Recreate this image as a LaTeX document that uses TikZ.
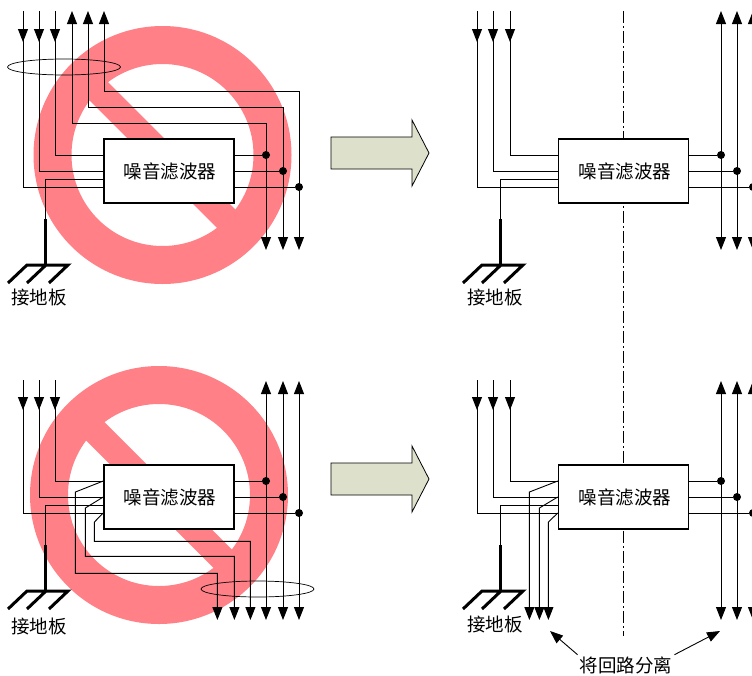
\documentclass[tikz,border=0pt]{standalone}
\usepackage{fontspec}
\newfontfamily\cjk{Noto Sans CJK SC}
\usetikzlibrary{arrows.meta, calc, shapes.geometric}
\definecolor{banred}{RGB}{255,128,135}
\definecolor{arrowgreen}{RGB}{221,225,203}
\tikzset{
    wire/.style={line width=0.9pt, black},
    ticked/.style={wire, -{Triangle[length=13pt, width=10pt]}},
    twoway/.style={wire, {Triangle[length=13pt, width=10pt]}-{Triangle[length=13pt, width=10pt]}},
    earth/.style={line width=3pt, black},
    filterbox/.style={draw, line width=1.5pt, fill=white, minimum width=130pt, minimum height=64pt, inner sep=0pt, font=\cjk\fontsize{18.5}{20}\selectfont},
    caption/.style={inner sep=2pt, font=\cjk\fontsize{18.5}{20}\selectfont},
    dot/.style={circle, fill=black, minimum size=8pt, inner sep=0pt},
    loopmark/.style={ellipse, draw, line width=0.7pt, minimum width=113pt, minimum height=16pt, inner sep=0pt},
    bigarrow/.style={draw, line width=0.8pt, fill=arrowgreen},
    axis/.style={line width=0.8pt, dash pattern=on 12pt off 3pt on 2pt off 3pt}
}
% ports on the two sides of a filter box
\newcommand{\fports}[1]{
    \coordinate (#1wa) at ($(#1.west)+(0,-16)$);
    \coordinate (#1wg) at ($(#1.west)+(0,8)$);
    \coordinate (#1wb) at (#1.west);
    \coordinate (#1wc) at ($(#1.west)+(0,16)$);
    \coordinate (#1ea) at ($(#1.east)+(0,-16)$);
    \coordinate (#1eb) at (#1.east);
    \coordinate (#1ec) at ($(#1.east)+(0,16)$);
}
\begin{document}
\begin{tikzpicture}[x=1pt, y=-1pt]
    \useasboundingbox (0,0) rectangle (752,675);

    % Forbidden signs
    \fill[banred, even odd rule] (162.5,155) circle (129) (162.5,155) circle (91);
    \begin{scope}
        \clip (162.5,155) circle (100);
        \draw[banred, line width=26pt] (62.5,55) -- (262.5,255);
    \end{scope}
    \fill[banred, even odd rule] (159,495) circle (129) (159,495) circle (91);
    \begin{scope}
        \clip (159,495) circle (100);
        \draw[banred, line width=26pt] (59,395) -- (259,595);
    \end{scope}

    % Axis
    \draw[axis] (623.5,11) -- (623.5,636);

    % Filters
    \node[filterbox] (f1) at (169,171) {\hspace*{2pt}\raisebox{-1pt}{噪音滤波器}};
    \node[filterbox] (f2) at (169,497) {\hspace*{2pt}\raisebox{-1pt}{噪音滤波器}};
    \node[filterbox] (f3) at (623.5,171) {\hspace*{3pt}\raisebox{-1pt}{噪音滤波器}};
    \node[filterbox] (f4) at (623.5,497) {\hspace*{3pt}\raisebox{-1pt}{噪音滤波器}};
    \fports{f1} \fports{f2} \fports{f3} \fports{f4}

    % Dots
    \node[dot] (d1a) at (266,155) {};
    \node[dot] (d1b) at (283,171) {};
    \node[dot] (d1c) at (299,187) {};
    \node[dot] (d2a) at (266,481) {};
    \node[dot] (d2b) at (283,497) {};
    \node[dot] (d2c) at (299,513) {};
    \node[dot] (d3a) at (721,155) {};
    \node[dot] (d3b) at (737,171) {};
    \node[dot] (d3c) at (753,187) {};
    \node[dot] (d4a) at (721,481) {};
    \node[dot] (d4b) at (737,497) {};
    \node[dot] (d4c) at (753,513) {};

    % Loops
    \node[loopmark] (l1) at (64,67) {};
    \node[loopmark] (l2) at (257.5,589) {};

    % Top left: inputs
    \coordinate (i1a) at (55,11);
    \coordinate (i1b) at (39,11);
    \coordinate (i1c) at (23,11);
    \draw[ticked] (i1a) -- ++(0,31);
    \draw[ticked] (i1b) -- ++(0,31);
    \draw[ticked] (i1c) -- ++(0,31);
    \draw[wire] (i1a) |- (f1wa);
    \draw[wire] (i1b) |- (f1wb);
    \draw[wire] (i1c) |- (f1wc);

    % Top left: outputs
    \coordinate (o1a) at (72,11);
    \coordinate (o1b) at (88,11);
    \coordinate (o1c) at (104,11);
    \coordinate (c1a) at (266,123);
    \coordinate (c1b) at (283,107);
    \coordinate (c1c) at (299,91);
    \coordinate (t1a) at (266,250);
    \coordinate (t1b) at (283,250);
    \coordinate (t1c) at (299,250);
    \draw[twoway] (o1a) |- (c1a) -- (t1a);
    \draw[twoway] (o1b) |- (c1b) -- (t1b);
    \draw[twoway] (o1c) |- (c1c) -- (t1c);
    \draw[wire] (f1ea) -- (d1a);
    \draw[wire] (f1eb) -- (d1b);
    \draw[wire] (f1ec) -- (d1c);

    % Bottom left: inputs
    \coordinate (i2a) at (55,380);
    \coordinate (i2b) at (39,380);
    \coordinate (i2c) at (23,380);
    \draw[ticked] (i2a) -- ++(0,30);
    \draw[ticked] (i2b) -- ++(0,30);
    \draw[ticked] (i2c) -- ++(0,30);
    \draw[wire] (i2a) |- (f2wa);
    \draw[wire] (i2b) |- (f2wb);
    \draw[wire] (i2c) |- (f2wc);

    % Bottom left: outputs
    \coordinate (b2a) at (75.4,492);
    \coordinate (b2b) at (85.4,508);
    \coordinate (b2c) at (94.4,522);
    \coordinate (c2a) at (217.4,573.4);
    \coordinate (c2b) at (234.4,556.4);
    \coordinate (c2c) at (250.4,541.4);
    \coordinate (t2a) at (217.4,620);
    \coordinate (t2b) at (234.4,620);
    \coordinate (t2c) at (250.4,620);
    \draw[ticked] (f2wa) -- (b2a) |- (c2a) -- (t2a);
    \draw[ticked] (f2wb) -- (b2b) |- (c2b) -- (t2b);
    \draw[ticked] (f2wc) -- (b2c) |- (c2c) -- (t2c);
    \coordinate (u2a) at (266,381);
    \coordinate (u2b) at (283,381);
    \coordinate (u2c) at (299,381);
    \coordinate (v2a) at (266,620);
    \coordinate (v2b) at (283,620);
    \coordinate (v2c) at (299,620);
    \draw[twoway] (u2a) -- (v2a);
    \draw[twoway] (u2b) -- (v2b);
    \draw[twoway] (u2c) -- (v2c);
    \draw[wire] (f2ea) -- (d2a);
    \draw[wire] (f2eb) -- (d2b);
    \draw[wire] (f2ec) -- (d2c);

    % Top right
    \coordinate (i3a) at (510,11);
    \coordinate (i3b) at (493,11);
    \coordinate (i3c) at (477,11);
    \draw[ticked] (i3a) -- ++(0,31);
    \draw[ticked] (i3b) -- ++(0,31);
    \draw[ticked] (i3c) -- ++(0,31);
    \draw[wire] (i3a) |- (f3wa);
    \draw[wire] (i3b) |- (f3wb);
    \draw[wire] (i3c) |- (f3wc);
    \coordinate (u3a) at (721,11);
    \coordinate (u3b) at (737,11);
    \coordinate (u3c) at (753,11);
    \coordinate (v3a) at (721,250);
    \coordinate (v3b) at (737,250);
    \coordinate (v3c) at (753,250);
    \draw[twoway] (u3a) -- (v3a);
    \draw[twoway] (u3b) -- (v3b);
    \draw[twoway] (u3c) -- (v3c);
    \draw[wire] (f3ea) -- (d3a);
    \draw[wire] (f3eb) -- (d3b);
    \draw[wire] (f3ec) -- (d3c);

    % Bottom right
    \coordinate (i4a) at (510,380);
    \coordinate (i4b) at (493,380);
    \coordinate (i4c) at (477,380);
    \draw[ticked] (i4a) -- ++(0,30);
    \draw[ticked] (i4b) -- ++(0,30);
    \draw[ticked] (i4c) -- ++(0,30);
    \draw[wire] (i4a) |- (f4wa);
    \draw[wire] (i4b) |- (f4wb);
    \draw[wire] (i4c) |- (f4wc);
    \coordinate (b4a) at (529.4,492);
    \coordinate (b4b) at (539.4,508);
    \coordinate (b4c) at (548.4,522);
    \coordinate (t4a) at (529.4,620);
    \coordinate (t4b) at (539.4,620);
    \coordinate (t4c) at (548.4,620);
    \draw[ticked] (f4wa) -- (b4a) -- (t4a);
    \draw[ticked] (f4wb) -- (b4b) -- (t4b);
    \draw[ticked] (f4wc) -- (b4c) -- (t4c);
    \coordinate (u4a) at (721,381);
    \coordinate (u4b) at (737,381);
    \coordinate (u4c) at (753,381);
    \coordinate (v4a) at (721,620);
    \coordinate (v4b) at (737,620);
    \coordinate (v4c) at (753,620);
    \draw[twoway] (u4a) -- (v4a);
    \draw[twoway] (u4b) -- (v4b);
    \draw[twoway] (u4c) -- (v4c);
    \draw[wire] (f4ea) -- (d4a);
    \draw[wire] (f4eb) -- (d4b);
    \draw[wire] (f4ec) -- (d4c);

    % Ground plates
    \coordinate (g1) at (45,265);
    \coordinate (g2) at (45,591);
    \coordinate (g3) at (500,265);
    \coordinate (g4) at (500,591);
    \draw[wire] (f1wg) -| (g1);
    \draw[wire] (f2wg) -| (g2);
    \draw[wire] (f3wg) -| (g3);
    \draw[wire] (f4wg) -| (g4);
    \draw[earth] (g1) -- ++(0,-46);
    \draw[earth] (g2) -- ++(0,-46);
    \draw[earth] (g3) -- ++(0,-46);
    \draw[earth] (g4) -- ++(0,-46);
    \draw[earth] ($(g1)+(-37,18)$) -- ++(19,-18) -- ++(41,0) -- ++(-19,18) ($(g1)+(-18,18)$) -- ++(19,-18);
    \draw[earth] ($(g2)+(-37,18)$) -- ++(19,-18) -- ++(41,0) -- ++(-19,18) ($(g2)+(-18,18)$) -- ++(19,-18);
    \draw[earth] ($(g3)+(-37,18)$) -- ++(19,-18) -- ++(41,0) -- ++(-19,18) ($(g3)+(-18,18)$) -- ++(19,-18);
    \draw[earth] ($(g4)+(-37,18)$) -- ++(19,-18) -- ++(41,0) -- ++(-19,18) ($(g4)+(-18,18)$) -- ++(19,-18);

    % Labels
    \node[caption] (n1) at (39,297) {接地板};
    \node[caption] (n2) at (39,626) {接地板};
    \node[caption] (n3) at (495,297) {接地板};
    \node[caption] (n4) at (495,624) {接地板};
    \node[caption] (sep) at (626,665.5) {将回路分离};
    \coordinate (sa) at (550,631);
    \coordinate (sb) at (720,631);
    \draw[ticked] (sep.north west) -- (sa);
    \draw[ticked] (sep.north east) -- (sb);

    % Block arrows
    \draw[bigarrow] (331,137) -- (412,137) -- (412,120) -- (429,153) -- (412,186) -- (412,169) -- (331,169) -- cycle;
    \draw[bigarrow] (331,463) -- (412,463) -- (412,446) -- (429,479) -- (412,512) -- (412,495) -- (331,495) -- cycle;
\end{tikzpicture}
\end{document}
